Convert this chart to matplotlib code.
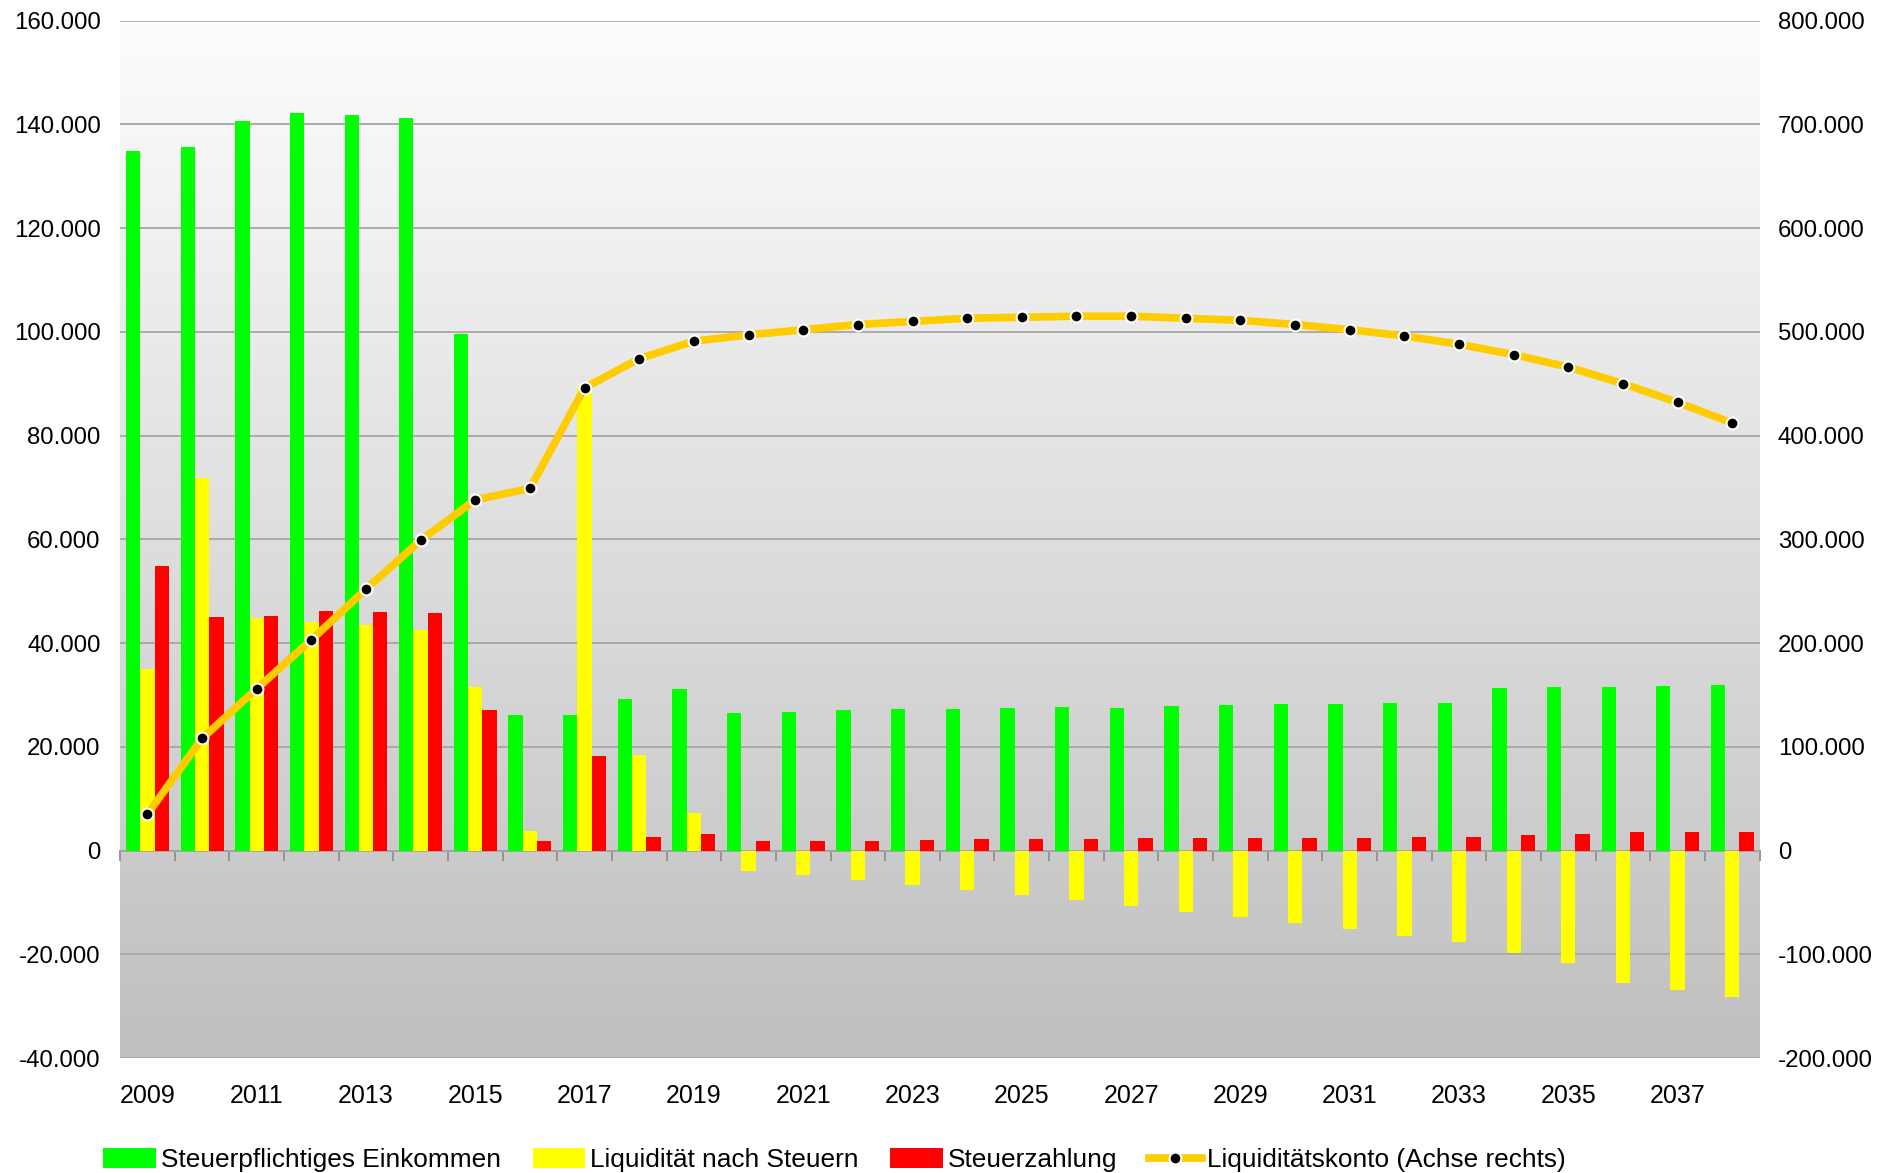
import numpy as np
import matplotlib.pyplot as plt
from matplotlib.colors import LinearSegmentedColormap
from matplotlib.ticker import FuncFormatter

plt.rcParams['font.family'] = ['Liberation Sans', 'DejaVu Sans']

# Daten
jahre = list(range(2009, 2039))
einkommen = [134800, 135600, 140600, 142100, 141700, 141300, 99500, 26100, 26200, 29300,
             31200, 26600, 26800, 27000, 27200, 27300, 27500, 27700, 27500, 27900,
             28100, 28300, 28300, 28500, 28500, 31300, 31500, 31600, 31800, 32000]
liquiditaet = [34900, 71900, 44900, 44100, 43400, 42600, 31500, 3700, 89300, 18500,
               7200, -4000, -4700, -5700, -6700, -7600, -8600, -9500, -10700, -11900,
               -12800, -14000, -15100, -16400, -17600, -19700, -21600, -25600, -26800, -28200]
steuer = [54800, 45100, 45300, 46100, 45900, 45700, 27100, 1800, 18200, 2700,
          3200, 1900, 1900, 1900, 2100, 2200, 2200, 2200, 2400, 2400,
          2400, 2400, 2400, 2600, 2600, 3000, 3200, 3600, 3600, 3600]
konto = [35000, 108000, 156000, 203000, 252000, 299000, 338000, 349000, 446000, 474000,
         491000, 497000, 502000, 507000, 510000, 513000, 514000, 515000, 515000, 513000,
         511000, 507000, 502000, 496000, 488000, 478000, 466000, 450000, 432000, 412000]


def de_fmt(v, pos):
    return f"{int(round(v)):,}".replace(",", ".")


fig = plt.figure(figsize=(18.88, 11.73), dpi=100)
ax = fig.add_axes([0.0636, 0.098, 0.932 - 0.0636, 0.9825 - 0.098])
ax2 = ax.twinx()

x = np.arange(len(jahre))
w = 0.262

# Hintergrund mit Verlauf (oben hell, unten grau)
grad = np.linspace(0, 1, 256).reshape(-1, 1)
cmap = LinearSegmentedColormap.from_list('g', ['#fdfdfd', '#bfbfbf'])
ax.imshow(grad, cmap=cmap, extent=[0, 1, 0, 1], origin='upper',
          transform=ax.transAxes, aspect='auto', zorder=0)

ax.bar(x - w, einkommen, w, color='#00ff00', zorder=3, label='Steuerpflichtiges Einkommen')
ax.bar(x, liquiditaet, w, color='#ffff00', zorder=3, label='Liquidität nach Steuern')
ax.bar(x + w, steuer, w, color='#ff0000', zorder=3, label='Steuerzahlung')

ax2.plot(x, konto, color='#ffcc00', lw=5.5, marker='o', markersize=8.5,
         markerfacecolor='black', markeredgecolor='white', markeredgewidth=1.5,
         label='Liquiditätskonto (Achse rechts)', zorder=5)

ax.set_xlim(-0.5, len(jahre) - 0.5)
ax.set_ylim(-40000, 160000)
ax2.set_ylim(-200000, 800000)
ax.set_yticks(np.arange(-40000, 160001, 20000))
ax2.set_yticks(np.arange(-200000, 800001, 100000))
ax.yaxis.set_major_formatter(FuncFormatter(de_fmt))
ax2.yaxis.set_major_formatter(FuncFormatter(de_fmt))

ax.grid(axis='y', color='#a6a6a6', lw=1.3, zorder=1)
ax.set_axisbelow(True)

ax.set_xticks(x[::2])
ax.set_xticklabels([str(j) for j in jahre[::2]])
ax.tick_params(axis='x', length=0, pad=19, labelsize=18)
ax.tick_params(axis='y', length=0, pad=14, labelsize=17.3)
ax2.tick_params(axis='y', length=0, pad=13, labelsize=17.3)

for a in (ax, ax2):
    for s in a.spines.values():
        s.set_visible(False)

# Nulllinie mit Kategorie-Ticks
sec = ax.secondary_xaxis(0.2)
sec.set_xticks(np.arange(-0.5, len(jahre) - 0.4, 1))
sec.set_xticklabels([])
sec.tick_params(axis='x', length=7, width=1.3, color='#909090', direction='out')
sec.spines['bottom'].set_color('#909090')
sec.spines['bottom'].set_linewidth(1.3)

h1, l1 = ax.get_legend_handles_labels()
h2, l2 = ax2.get_legend_handles_labels()
fig.legend(h1 + h2, l1 + l2, loc='center', bbox_to_anchor=(0.442, 0.011), ncol=4,
           frameon=False, fontsize=18.9, handlelength=2.0, handleheight=0.75,
           handletextpad=0.2, columnspacing=1.2)

fig.savefig('out.png', dpi=100)
